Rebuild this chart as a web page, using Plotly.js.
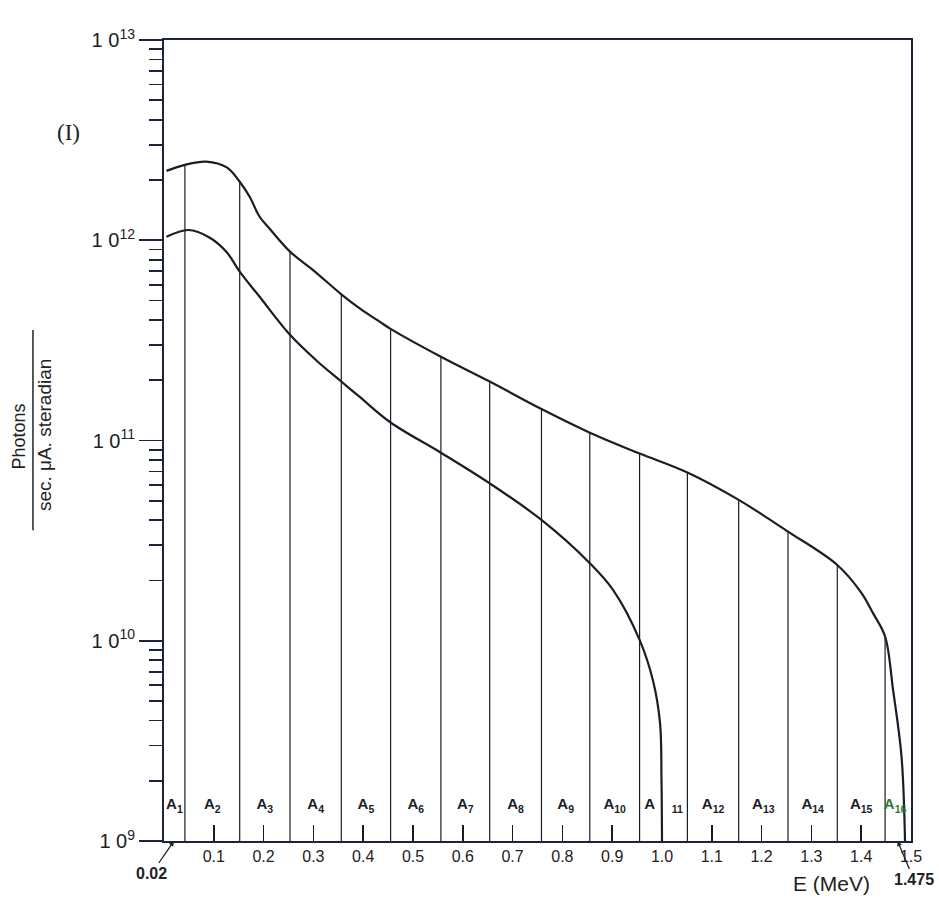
<!DOCTYPE html>
<html>
<head>
<meta charset="utf-8">
<script src="https://cdn.plot.ly/plotly-3.0.1.min.js"></script>
<style>html,body{margin:0;padding:0;background:#fff;}#chart{width:939px;height:901px;}</style>
</head>
<body>
<div id="chart"></div>
<script>
// Upper spectrum (E in MeV, photons / sec·μA·steradian)
const upperE = [0.005, 0.042, 0.085, 0.126, 0.152, 0.172, 0.192, 0.213, 0.253, 0.300, 0.356, 0.393, 0.433, 0.455, 0.556, 0.654, 0.758, 0.855, 0.955, 1.051, 1.154, 1.253, 1.352, 1.400, 1.424, 1.448, 1.464, 1.481, 1.488];
const upperI = [2.22e12, 2.38e12, 2.47e12, 2.31e12, 1.96e12, 1.65e12, 1.31e12, 1.135e12, 8.77e11, 7.08e11, 5.37e11, 4.57e11, 3.92e11, 3.61e11, 2.62e11, 1.97e11, 1.435e11, 1.094e11, 8.61e10, 6.92e10, 5.05e10, 3.51e10, 2.39e10, 1.74e10, 1.37e10, 1.05e10, 5.68e9, 2.63e9, 1.0e9];

// Lower spectrum
const lowerE = [0.005, 0.049, 0.092, 0.126, 0.152, 0.192, 0.253, 0.306, 0.356, 0.393, 0.455, 0.556, 0.654, 0.758, 0.855, 0.902, 0.955, 0.982, 0.996, 0.999, 1.0];
const lowerI = [1.04e12, 1.125e12, 1.03e12, 8.71e11, 6.97e11, 5.22e11, 3.37e11, 2.51e11, 1.97e11, 1.65e11, 1.23e11, 8.69e10, 6.11e10, 4.01e10, 2.44e10, 1.79e10, 1.01e10, 6.31e9, 3.89e9, 2.0e9, 1.0e9];

// Bin boundaries and the upper-curve height at each boundary
const binEdges = [0.042, 0.152, 0.253, 0.356, 0.455, 0.556, 0.654, 0.758, 0.855, 0.955, 1.051, 1.154, 1.253, 1.352, 1.448];
const binTops  = [2.38e12, 1.96e12, 8.77e11, 5.37e11, 3.61e11, 2.62e11, 1.97e11, 1.435e11, 1.094e11, 8.61e10, 6.92e10, 5.05e10, 3.51e10, 2.39e10, 1.05e10];
const axisStart = 0.0;
const spectrumEnd = 1.488;
const baseI = 1e9;

const binLabels = ["A<sub>1</sub>","A<sub>2</sub>","A<sub>3</sub>","A<sub>4</sub>","A<sub>5</sub>","A<sub>6</sub>","A<sub>7</sub>","A<sub>8</sub>","A<sub>9</sub>","A<sub>10</sub>","A&nbsp;&nbsp;&nbsp;&nbsp;<sub>11</sub>","A<sub>12</sub>","A<sub>13</sub>","A<sub>14</sub>","A<sub>15</sub>","A<sub>16</sub>"];
const labelI = 1.5e9;

const xTickVals = [0.1,0.2,0.3,0.4,0.5,0.6,0.7,0.8,0.9,1.0,1.1,1.2,1.3,1.4,1.5];
const xTickText = ["0.1","0.2","0.3","0.4","0.5","0.6","0.7","0.8","0.9","1.0","1.1","1.2","1.3","1.4","1.5"];
const yTickVals = [1e9,1e10,1e11,1e12,1e13];
const yTickText = ["1 0<sup>9</sup>","1 0<sup>10</sup>","1 0<sup>11</sup>","1 0<sup>12</sup>","1 0<sup>13</sup>"];

// minor tick positions (2..9 x decade)
const yMinor = [];
for (let d = 9; d < 13; d++) for (let k = 2; k <= 9; k++) yMinor.push(k * Math.pow(10, d));

const ink = '#1b1d26';
const axisInk = '#1c2340';

// vertical bin lines
const vx = [], vy = [];
binEdges.forEach((e, i) => { vx.push(e, e, null); vy.push(baseI, binTops[i], null); });

// label positions at bin centres
const edgesAll = [axisStart].concat(binEdges, [spectrumEnd]);
const labelX = [];
for (let i = 0; i < edgesAll.length - 1; i++) labelX.push((edgesAll[i] + edgesAll[i+1]) / 2);
const labelColors = binLabels.map((_, i) => i === 15 ? '#2e7d32' : ink);

const traces = [
  {x: vx, y: vy, mode: 'lines', line: {color: ink, width: 1.2}, hoverinfo: 'skip', showlegend: false},
  {x: upperE, y: upperI, mode: 'lines', line: {color: ink, width: 2.2, shape: 'spline', smoothing: 1.0}, showlegend: false},
  {x: lowerE, y: lowerI, mode: 'lines', line: {color: ink, width: 2.2, shape: 'spline', smoothing: 1.0}, showlegend: false},
  {x: labelX, y: labelX.map(() => labelI), mode: 'text', text: binLabels, textposition: 'middle center',
   textfont: {family: 'Liberation Sans', size: 15, color: labelColors, weight: 'bold'}, hoverinfo: 'skip', showlegend: false}
];

const layout = {
  width: 939, height: 901,
  margin: {l: 164, r: 28, t: 40, b: 60},
  paper_bgcolor: '#fff', plot_bgcolor: '#fff',
  showlegend: false,
  font: {family: 'Liberation Sans', color: '#222'},
  xaxis: {
    range: [0, 1.5], tickvals: xTickVals, ticktext: xTickText,
    ticks: 'inside', ticklen: 16, tickwidth: 1.6, tickcolor: ink,
    showline: true, linecolor: axisInk, linewidth: 2, mirror: true,
    showgrid: false, zeroline: false,
    tickfont: {family: 'Liberation Sans', size: 16, color: '#222'}
  },
  yaxis: {
    type: 'log', range: [9, 13], tickmode: 'array', tickvals: yTickVals, ticktext: yTickText,
    ticks: 'outside', ticklen: 23, tickwidth: 1.8, tickcolor: axisInk,
    minor: {tickmode: 'array', tickvals: yMinor, ticks: 'outside', ticklen: 13, tickwidth: 1.8, tickcolor: axisInk, showgrid: false},
    showline: true, linecolor: axisInk, linewidth: 2, mirror: true,
    showgrid: false, zeroline: false,
    tickfont: {family: 'Liberation Sans', size: 20, color: '#222'}
  },
  shapes: [
    {type: 'line', xref: 'paper', yref: 'paper', x0: -0.1754, x1: -0.1754, y0: 0.388, y1: 0.638,
     line: {color: '#222', width: 1.5}}
  ],
  annotations: [
    {xref: 'paper', yref: 'paper', x: -0.1928, y: 0.505, xanchor: 'center', yanchor: 'middle',
     text: 'Photons', textangle: -90, showarrow: false,
     font: {family: 'Liberation Sans', size: 18, color: '#222'}},
    {xref: 'paper', yref: 'paper', x: -0.159, y: 0.507, xanchor: 'center', yanchor: 'middle',
     text: 'sec. μA. steradian', textangle: -90, showarrow: false,
     font: {family: 'Liberation Sans', size: 19, color: '#222'}},
    {xref: 'paper', yref: 'paper', x: -0.1285, y: 0.884, xanchor: 'center', yanchor: 'middle',
     text: '(I)', showarrow: false,
     font: {family: 'Liberation Serif', size: 23, color: '#222'}},
    {xref: 'paper', yref: 'paper', x: 0.894, y: -0.053, xanchor: 'center', yanchor: 'middle',
     text: 'E (MeV)', showarrow: false,
     font: {family: 'Liberation Sans', size: 21, color: '#222'}},
    {x: 0.02, y: 9, text: '<b>0.02</b>', showarrow: true, arrowhead: 2, arrowsize: 0.8, arrowwidth: 1.3,
     arrowcolor: '#222', ax: -22, ay: 32, font: {family: 'Liberation Sans', size: 16, color: '#222'}},
    {x: 1.473, y: 9, text: '<b>1.475</b>', showarrow: true, arrowhead: 2, arrowsize: 0.8, arrowwidth: 1.3,
     arrowcolor: '#222', ax: 16, ay: 38, font: {family: 'Liberation Sans', size: 16, color: '#222'}}
  ]
};

Plotly.newPlot('chart', traces, layout, {staticPlot: true});
</script>
</body>
</html>
